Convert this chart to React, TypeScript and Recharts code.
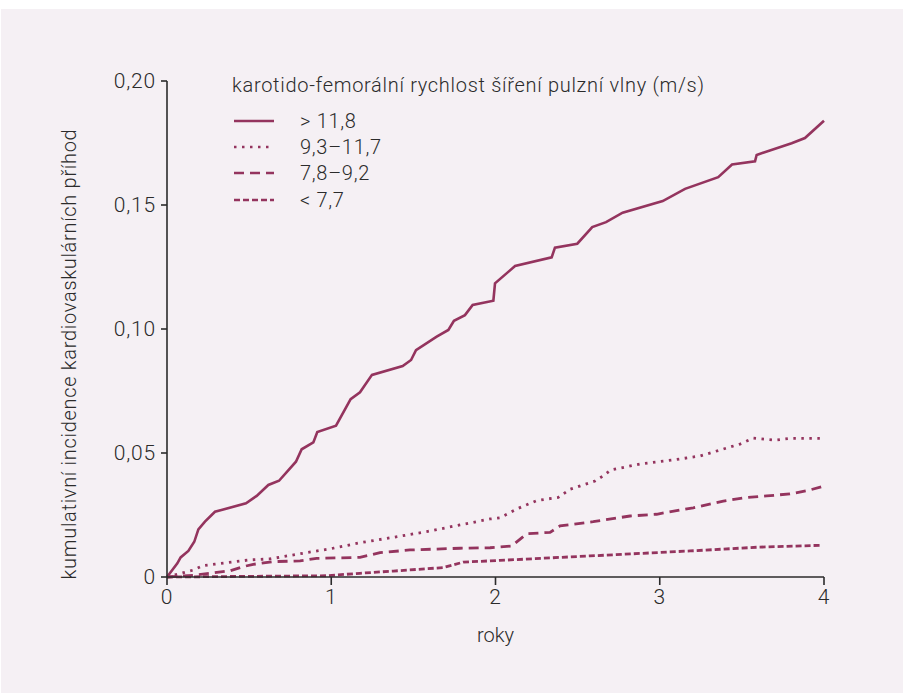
import React from 'react';
import { LineChart, Line, XAxis, YAxis, Legend } from 'recharts';

const seriesNames = ['> 11,8', '9,3–11,7', '7,8–9,2', '< 7,7'];
const legendTitle = 'karotido-femorální rychlost šíření pulzní vlny (m/s)';
const yTitle = 'kumulativní incidence kardiovaskulárních příhod';
const xTitle = 'roky';
const xTicks = [0, 1, 2, 3, 4];
const yTicks = [0, 0.05, 0.1, 0.15, 0.2];

const s1: { t: number; v: number }[] = [
  { t: 0, v: 0 }, { t: 0.063, v: 0.0055 }, { t: 0.083, v: 0.0079 }, { t: 0.13, v: 0.0105 },
  { t: 0.166, v: 0.0142 }, { t: 0.191, v: 0.0192 }, { t: 0.231, v: 0.0223 }, { t: 0.292, v: 0.0263 },
  { t: 0.481, v: 0.0297 }, { t: 0.546, v: 0.0327 }, { t: 0.617, v: 0.0371 }, { t: 0.682, v: 0.0388 },
  { t: 0.785, v: 0.0465 }, { t: 0.82, v: 0.0515 }, { t: 0.891, v: 0.0543 }, { t: 0.915, v: 0.0585 },
  { t: 1.029, v: 0.061 }, { t: 1.118, v: 0.0717 }, { t: 1.175, v: 0.0745 }, { t: 1.248, v: 0.0815 },
  { t: 1.435, v: 0.0851 }, { t: 1.486, v: 0.0875 }, { t: 1.516, v: 0.0915 }, { t: 1.642, v: 0.0969 },
  { t: 1.713, v: 0.0996 }, { t: 1.747, v: 0.1033 }, { t: 1.814, v: 0.1056 }, { t: 1.861, v: 0.1097 },
  { t: 1.987, v: 0.1114 }, { t: 1.997, v: 0.1184 }, { t: 2.119, v: 0.1254 }, { t: 2.342, v: 0.1289 },
  { t: 2.362, v: 0.1328 }, { t: 2.498, v: 0.1344 }, { t: 2.589, v: 0.1411 }, { t: 2.673, v: 0.1431 },
  { t: 2.774, v: 0.1469 }, { t: 3.018, v: 0.1516 }, { t: 3.154, v: 0.1565 }, { t: 3.356, v: 0.1612 },
  { t: 3.44, v: 0.1663 }, { t: 3.58, v: 0.1676 }, { t: 3.59, v: 0.1702 }, { t: 3.803, v: 0.1749 },
  { t: 3.884, v: 0.177 }, { t: 4.0, v: 0.184 },
];

const s2: { t: number; v: number }[] = [
  { t: 0, v: 0 }, { t: 0.16, v: 0.0028 }, { t: 0.221, v: 0.0046 }, { t: 0.292, v: 0.0052 },
  { t: 0.505, v: 0.0069 }, { t: 0.627, v: 0.0073 }, { t: 0.83, v: 0.0096 }, { t: 1.012, v: 0.0116 },
  { t: 1.175, v: 0.0138 }, { t: 1.378, v: 0.016 }, { t: 1.581, v: 0.0183 }, { t: 1.784, v: 0.021 },
  { t: 1.967, v: 0.0234 }, { t: 2.027, v: 0.0239 }, { t: 2.139, v: 0.0277 }, { t: 2.251, v: 0.0308 },
  { t: 2.382, v: 0.0321 }, { t: 2.454, v: 0.0354 }, { t: 2.606, v: 0.0387 }, { t: 2.656, v: 0.0408 },
  { t: 2.701, v: 0.0431 }, { t: 2.88, v: 0.0456 }, { t: 3.083, v: 0.0472 }, { t: 3.245, v: 0.0488 },
  { t: 3.367, v: 0.0512 }, { t: 3.489, v: 0.0536 }, { t: 3.57, v: 0.056 }, { t: 3.702, v: 0.0552 },
  { t: 3.793, v: 0.0559 }, { t: 4.0, v: 0.0559 },
];

const s3: { t: number; v: number }[] = [
  { t: 0, v: 0 }, { t: 0.16, v: 0.0007 }, { t: 0.262, v: 0.0015 }, { t: 0.384, v: 0.0025 },
  { t: 0.465, v: 0.0042 }, { t: 0.525, v: 0.0051 }, { t: 0.647, v: 0.0062 }, { t: 0.81, v: 0.0065 },
  { t: 0.911, v: 0.0075 }, { t: 1.175, v: 0.0079 }, { t: 1.297, v: 0.0098 }, { t: 1.479, v: 0.0109 },
  { t: 1.784, v: 0.0116 }, { t: 1.967, v: 0.0118 }, { t: 2.099, v: 0.0125 }, { t: 2.169, v: 0.0163 },
  { t: 2.2, v: 0.0175 }, { t: 2.332, v: 0.018 }, { t: 2.393, v: 0.0206 }, { t: 2.595, v: 0.0223 },
  { t: 2.819, v: 0.0246 }, { t: 2.981, v: 0.0253 }, { t: 3.123, v: 0.027 }, { t: 3.204, v: 0.0279 },
  { t: 3.387, v: 0.0306 }, { t: 3.509, v: 0.0319 }, { t: 3.651, v: 0.0327 }, { t: 3.793, v: 0.0335 },
  { t: 3.915, v: 0.0351 }, { t: 4.0, v: 0.0367 },
];

const s4: { t: number; v: number }[] = [
  { t: 0, v: 0 }, { t: 0.972, v: 0.0005 }, { t: 1.175, v: 0.0015 }, { t: 1.378, v: 0.0024 },
  { t: 1.682, v: 0.0038 }, { t: 1.804, v: 0.006 }, { t: 2.027, v: 0.0067 }, { t: 2.575, v: 0.0085 },
  { t: 3.184, v: 0.0105 }, { t: 3.59, v: 0.012 }, { t: 3.986, v: 0.0128 },
];

const LINE = '#94345e';
const TEXT = '#2b2b2b';
const FONT = 'Roboto, "Open Sans", sans-serif';
const dashes = ['', '2.5 5.5', '10 6', '6 3'];
const seriesData = [s1, s2, s3, s4];

const fmtY = (v: number) => (v === 0 ? '0' : v.toFixed(2).replace('.', ','));

const LegendContent = () => (
  <div style={{ fontFamily: FONT, fontWeight: 300, color: TEXT }}>
    <div style={{ fontSize: 20, letterSpacing: 0.7, lineHeight: '26px', height: 26, whiteSpace: 'nowrap' }}>{legendTitle}</div>
    <div style={{ height: 10 }} />
    {seriesNames.map((n, i) => (
      <div key={n} style={{ display: 'flex', alignItems: 'center', height: 26.2 }}>
        <svg width={44} height={10} style={{ display: 'block' }}>
          <line x1={2} y1={5} x2={42} y2={5} stroke={LINE} strokeWidth={2.6} strokeDasharray={dashes[i] || undefined} />
        </svg>
        <span style={{ marginLeft: 24, fontSize: 20, letterSpacing: 0.7, lineHeight: '26px', whiteSpace: 'nowrap' }}>{n}</span>
      </div>
    ))}
  </div>
);

const YTitle = (props: any) => {
  const vb = props.viewBox || { x: 0, y: 0, width: 0, height: 0 };
  const cx = vb.x - 38;
  const cy = vb.y + vb.height / 2 + 25;
  return (
    <text
      x={cx}
      y={cy}
      transform={`rotate(-90, ${cx}, ${cy})`}
      textAnchor="middle"
      dominantBaseline="central"
      fill={TEXT}
      fontSize={20}
      letterSpacing={0.7}
      fontFamily={FONT}
      fontWeight={300}
    >
      {yTitle}
    </text>
  );
};

const tickStyle = { fill: TEXT, fontSize: 21, fontFamily: FONT, fontWeight: 300, letterSpacing: 0.8 };

export default function App() {
  return (
    <div style={{ position: 'absolute', left: 0, top: 0, width: 903, height: 693, background: '#ffffff' }}>
      <div style={{ position: 'absolute', left: 1, top: 9, width: 902, height: 684, background: '#f5f0f4' }} />
      <div style={{ position: 'absolute', left: 0, top: 0 }}>
        <LineChart width={903} height={693} margin={{ top: 81, right: 79, bottom: 86, left: 107 }}>
          <XAxis
            dataKey="t"
            type="number"
            domain={[0, 4]}
            ticks={xTicks}
            allowDuplicatedCategory={false}
            height={30}
            axisLine={{ stroke: TEXT, strokeWidth: 1.6 }}
            tickLine={{ stroke: TEXT, strokeWidth: 1.6 }}
            tickSize={8}
            tick={tickStyle}
            tickMargin={4}
            label={{ value: xTitle, position: 'bottom', offset: 21, fill: TEXT, fontSize: 20, fontFamily: FONT, fontWeight: 300 }}
          />
          <YAxis
            dataKey="v"
            type="number"
            domain={[0, 0.2]}
            ticks={yTicks}
            width={60}
            tickFormatter={fmtY}
            axisLine={{ stroke: TEXT, strokeWidth: 1.6 }}
            tickLine={{ stroke: TEXT, strokeWidth: 1.6 }}
            tickSize={6}
            tickMargin={5}
            tick={tickStyle}
            label={<YTitle />}
          />
          <Legend
            content={<LegendContent />}
            wrapperStyle={{ position: 'absolute', left: 232, top: 72, width: 520, height: 0, overflow: 'visible' }}
          />
          {seriesData.map((d, i) => (
            <Line
              key={seriesNames[i]}
              data={d}
              dataKey="v"
              name={seriesNames[i]}
              type="linear"
              stroke={LINE}
              strokeWidth={i === 0 ? 2.6 : 2.8}
              strokeDasharray={dashes[i] || undefined}
              dot={false}
              activeDot={false}
              isAnimationActive={false}
            />
          ))}
        </LineChart>
      </div>
    </div>
  );
}
